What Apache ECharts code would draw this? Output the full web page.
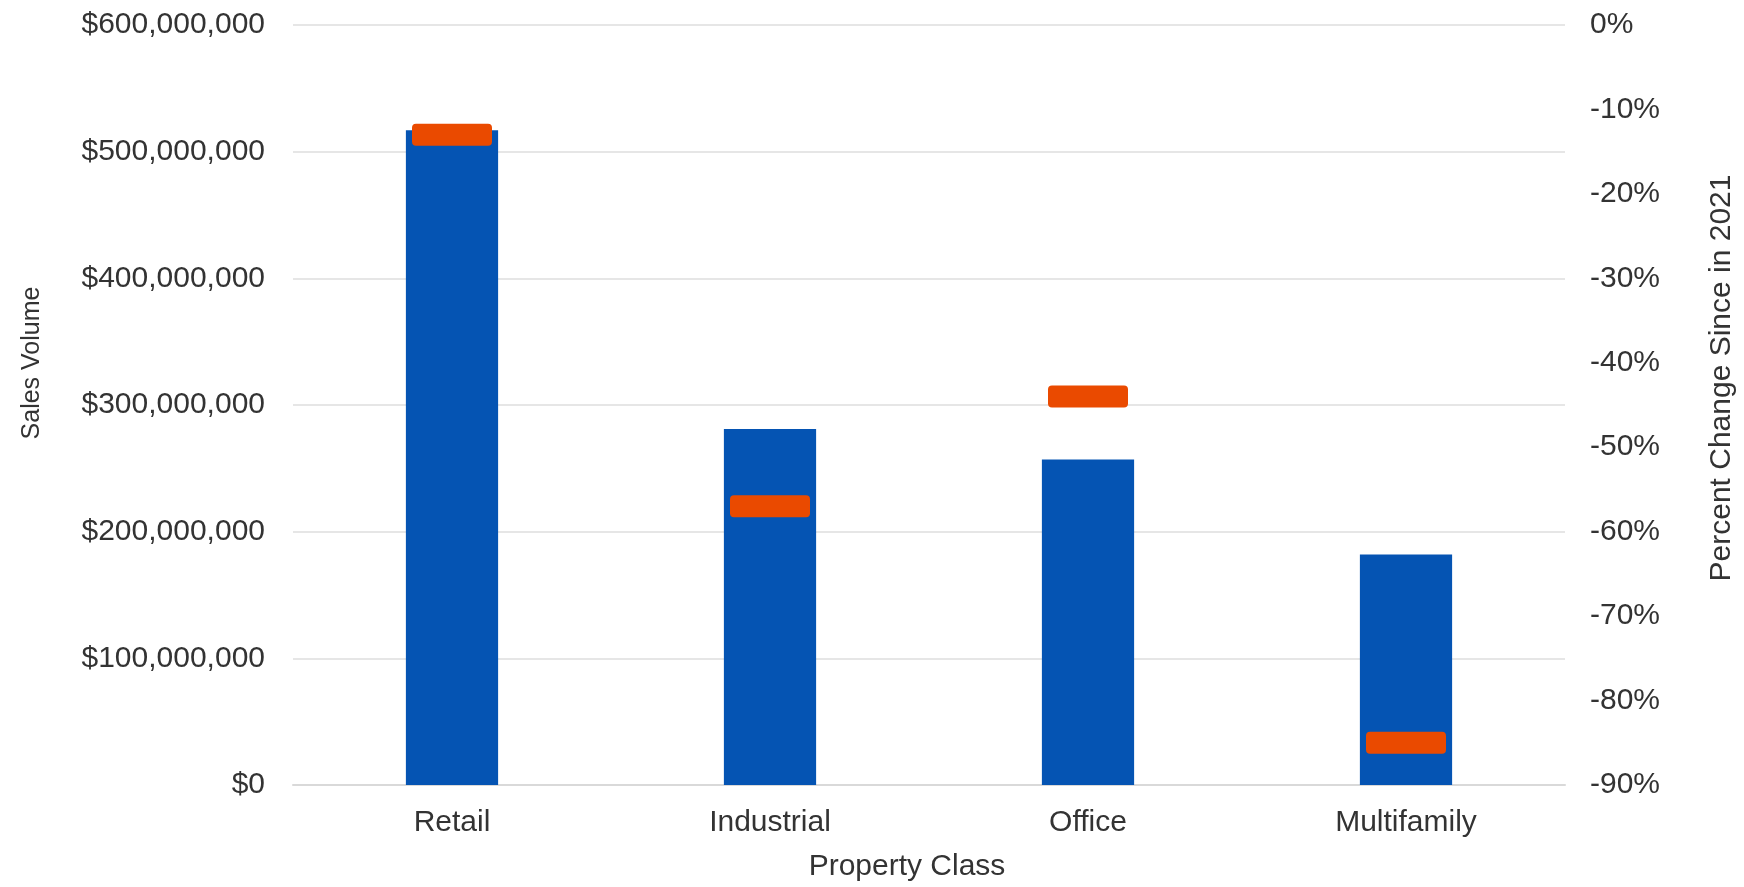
<!DOCTYPE html>
<html>
<head>
<meta charset="utf-8">
<script src="https://cdn.jsdelivr.net/npm/echarts@6/dist/echarts.min.js"></script>
<style>
  html, body { margin: 0; padding: 0; background: #fff; }
  #chart { width: 1744px; height: 887px; }
</style>
</head>
<body>
<div id="chart"></div>
<script>
const categories = ['Retail', 'Industrial', 'Office', 'Multifamily']
const salesVolume = [517000000, 281000000, 257000000, 182000000]
const pctChange = [-13, -57, -44, -85]

const textColor = '#333'
const fontFamily = '"Liberation Sans", Arial, sans-serif'
// dash marker with small rounded corners
const dashPath = 'path://M4,0H76Q80,0 80,4V18Q80,22 76,22H4Q0,22 0,18V4Q0,0 4,0Z'

const chart = echarts.init(document.getElementById('chart'))

chart.setOption({
  backgroundColor: '#fff',
  animation: false,
  textStyle: { fontFamily: fontFamily },
  grid: { left: 293, right: 179, top: 25, bottom: 102, containLabel: false, outerBoundsMode: 'none' },
  xAxis: {
    type: 'category',
    data: categories,
    name: 'Property Class',
    nameLocation: 'middle',
    nameGap: 67,
    nameTextStyle: { color: textColor, fontSize: 30, padding: [0, 44, 0, 0] },
    axisTick: { show: false },
    axisLine: { lineStyle: { color: '#d9d9d9', width: 2 } },
    axisLabel: { color: textColor, fontSize: 30, margin: 23 }
  },
  yAxis: [
    {
      type: 'value',
      min: 0,
      max: 600000000,
      interval: 100000000,
      name: 'Sales Volume',
      nameLocation: 'middle',
      nameGap: 248,
      nameTextStyle: { color: textColor, fontSize: 25, padding: [0, 0, 0, 84] },
      axisLine: { show: false },
      axisTick: { show: false },
      splitLine: { lineStyle: { color: '#dedede', width: 1.5 } },
      axisLabel: {
        color: textColor,
        fontSize: 30,
        margin: 28,
        formatter: (v) => '$' + v.toLocaleString('en-US')
      }
    },
    {
      type: 'value',
      min: -90,
      max: 0,
      interval: 10,
      name: 'Percent Change Since in 2021',
      nameLocation: 'middle',
      nameGap: 142,
      nameTextStyle: { color: textColor, fontSize: 30, padding: [0, 0, 0, 54] },
      axisLine: { show: false },
      axisTick: { show: false },
      splitLine: { show: false },
      axisLabel: {
        color: textColor,
        fontSize: 30,
        margin: 25,
        formatter: (v) => v + '%'
      }
    }
  ],
  series: [
    {
      name: 'Sales Volume',
      type: 'bar',
      data: salesVolume,
      barWidth: '29%',
      itemStyle: { color: '#0554b3' }
    },
    {
      name: 'Percent Change',
      type: 'scatter',
      yAxisIndex: 1,
      data: pctChange,
      symbol: dashPath,
      symbolSize: [80, 22],
      z: 5,
      itemStyle: { color: '#ea4a00', opacity: 1 }
    }
  ]
})
</script>
</body>
</html>
